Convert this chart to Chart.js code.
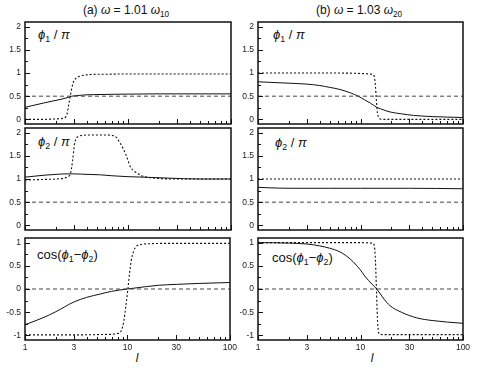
<!DOCTYPE html>
<html>
<head>
<meta charset="utf-8">
<title>Phase curves vs l</title>
<script src="https://cdn.jsdelivr.net/npm/chart.js@4.4.1/dist/chart.umd.min.js"></script>
<style>
  body { margin:0; background:#fff; width:480px; height:375px; position:relative; overflow:hidden;
         font-family:"Liberation Sans", Arial, sans-serif; color:#111; }
  canvas { position:absolute; }
  .txt { position:absolute; white-space:nowrap; line-height:1; }
  .title { font-size:12px; transform:translateX(-50%); }
  .lab { font-size:13px; }
  .xl { font-size:12px; font-style:italic; transform:translateX(-50%); }
  sub { font-size:0.68em; vertical-align:-0.35em; line-height:0; font-style:normal; }
</style>
</head>
<body>

<div class="txt title" style="left:126px; top:4px">(a) <i>ω</i> = 1.01 <i>ω</i><sub>10</sub></div>
<div class="txt title" style="left:359px; top:4px">(b) <i>ω</i> = 1.03 <i>ω</i><sub>20</sub></div>

<div class="txt lab" style="left:38px; top:28px"><i>ϕ</i><sub>1</sub> / <i>π</i></div>
<div class="txt lab" style="left:273px; top:28px"><i>ϕ</i><sub>1</sub> / <i>π</i></div>
<div class="txt lab" style="left:38px; top:135px"><i>ϕ</i><sub>2</sub> / <i>π</i></div>
<div class="txt lab" style="left:275px; top:136px"><i>ϕ</i><sub>2</sub> / <i>π</i></div>
<div class="txt lab" style="left:37px; top:248px">cos(<i>ϕ</i><sub>1</sub>−<i>ϕ</i><sub>2</sub>)</div>
<div class="txt lab" style="left:272px; top:251px">cos(<i>ϕ</i><sub>1</sub>−<i>ϕ</i><sub>2</sub>)</div>

<div class="txt xl" style="left:137px; top:352px">l</div>
<div class="txt xl" style="left:372px; top:352px">l</div>

<script>
// ---- data: (a) omega = 1.01 omega_10 ----
const aPhi1SolidX = [1, 1.5, 2, 2.5, 2.85, 3.5, 4, 5, 7, 10, 20, 30, 50, 100];
const aPhi1SolidY = [0.26, 0.35, 0.41, 0.46, 0.5, 0.52, 0.53, 0.535, 0.54, 0.545, 0.55, 0.55, 0.55, 0.55];
const aPhi1DotX = [1, 1.5, 2, 2.3, 2.45, 2.55, 2.65, 2.75, 2.85, 2.95, 3.1, 3.4, 4, 4.6, 7, 10, 30, 100];
const aPhi1DotY = [0.0, 0.0, 0.01, 0.02, 0.04, 0.1, 0.3, 0.5, 0.68, 0.8, 0.88, 0.93, 0.96, 0.97, 0.975, 0.98, 0.98, 0.98];

const aPhi2SolidX = [1, 1.5, 2, 2.5, 3, 4, 5.4, 7, 10, 14, 24, 50, 100];
const aPhi2SolidY = [1.04, 1.08, 1.1, 1.11, 1.11, 1.1, 1.09, 1.07, 1.05, 1.04, 1.02, 1.0, 1.0];
const aPhi2DotX = [1, 1.5, 2, 2.4, 2.6, 2.75, 2.9, 3.0, 3.1, 3.3, 3.6, 4, 5, 6, 7, 7.7, 8.4, 9.0, 9.4, 10, 10.5, 11.3, 12.2, 13.5, 15.2, 20, 30, 100];
const aPhi2DotY = [0.98, 0.99, 1.0, 1.02, 1.05, 1.1, 1.4, 1.7, 1.85, 1.92, 1.94, 1.95, 1.95, 1.95, 1.94, 1.9, 1.77, 1.65, 1.56, 1.4, 1.27, 1.18, 1.13, 1.07, 1.04, 1.01, 1.0, 1.0];

const aCosSolidX = [1, 1.5, 2, 3, 4, 5.4, 7, 10, 15, 20, 30, 50, 100];
const aCosSolidY = [-0.77, -0.62, -0.49, -0.28, -0.18, -0.11, -0.05, 0.0, 0.05, 0.08, 0.1, 0.12, 0.14];
const aCosDotX = [1, 3, 6, 8, 8.7, 9.2, 9.6, 10.1, 10.5, 10.9, 11.5, 12.2, 13.5, 16, 30, 100];
const aCosDotY = [-0.99, -0.99, -0.98, -0.96, -0.9, -0.7, -0.4, 0.0, 0.35, 0.62, 0.82, 0.92, 0.96, 0.975, 0.985, 0.985];

// ---- data: (b) omega = 1.03 omega_20 ----
const bPhi1SolidX = [1, 2, 3, 4, 5, 6.3, 8, 9.5, 11, 12.5, 14.4, 17, 19.4, 25, 33, 50, 100];
const bPhi1SolidY = [0.81, 0.78, 0.76, 0.73, 0.69, 0.645, 0.57, 0.5, 0.42, 0.35, 0.26, 0.2, 0.16, 0.12, 0.085, 0.06, 0.04];
const bPhi1DotX = [1, 5, 10, 12, 13, 13.6, 14.0, 14.3, 14.6, 15.0, 15.6, 17, 25, 100];
const bPhi1DotY = [1.0, 1.0, 0.99, 0.98, 0.97, 0.93, 0.7, 0.4, 0.15, 0.05, 0.01, 0.0, 0.0, 0.0];

const bPhi2SolidX = [1, 1.3, 2, 5, 10, 30, 100];
const bPhi2SolidY = [0.82, 0.81, 0.8, 0.8, 0.8, 0.8, 0.79];
const bPhi2DotX = [1, 100];
const bPhi2DotY = [1.0, 1.0];

const bCosSolidX = [1, 2, 3, 4, 5, 6.3, 8, 9.9, 11, 13, 14.4, 17, 19.4, 25, 35, 50, 100];
const bCosSolidY = [1.0, 0.99, 0.97, 0.93, 0.88, 0.8, 0.64, 0.42, 0.28, 0.1, 0.0, -0.22, -0.36, -0.5, -0.62, -0.68, -0.74];
const bCosDotX = [1, 10, 13, 13.6, 14.0, 14.3, 14.6, 15.0, 15.5, 17, 100];
const bCosDotY = [1.0, 1.0, 0.99, 0.95, 0.6, 0.0, -0.6, -0.93, -0.98, -0.985, -0.985];

// reference (dashed) lines
const refX = [1, 100];
const phiRefY = [0.5, 0.5];
const cosRefY = [0, 0];

// axis ticks
const xTickVals = [1,2,3,4,5,6,7,8,9,10,20,30,40,50,60,70,80,90,100];
const xLabelVals = [1, 3, 10, 30, 100];
const phiTickVals = [0, 0.25, 0.5, 0.75, 1, 1.25, 1.5, 1.75, 2];
const cosTickVals = [-1, -0.75, -0.5, -0.25, 0, 0.25, 0.5, 0.75, 1];

Chart.defaults.font.family = '"Liberation Sans", Arial, sans-serif';
Chart.defaults.color = '#222';

const pts = (xs, ys) => xs.map((x, i) => ({x: x, y: ys[i]}));
const isHalf = v => Math.abs(v * 2 - Math.round(v * 2)) < 1e-6;

// frame + inward tick marks (positions come from the chart's own scales)
const frameTicks = {
  id: 'frameTicks',
  afterDraw(chart) {
    const {ctx, chartArea: a, scales} = chart;
    ctx.save();
    ctx.setLineDash([]);
    ctx.strokeStyle = '#111';
    ctx.lineWidth = 1;
    ctx.beginPath();
    scales.x.ticks.forEach(t => {
      const px = Math.round(scales.x.getPixelForValue(t.value)) + 0.5;
      const len = xLabelVals.includes(t.value) ? 5 : 3;
      ctx.moveTo(px, a.bottom); ctx.lineTo(px, a.bottom - len);
    });
    scales.y.ticks.forEach(t => {
      const py = Math.round(scales.y.getPixelForValue(t.value)) + 0.5;
      const len = isHalf(t.value) ? 5 : 3;
      ctx.moveTo(a.left, py); ctx.lineTo(a.left + len, py);
    });
    ctx.stroke();
    ctx.lineWidth = 1.5;
    ctx.strokeRect(Math.round(a.left), Math.round(a.top), Math.round(a.right - a.left), Math.round(a.bottom - a.top));
    ctx.restore();
  }
};

const cols = [
  {left: 0, width: 240, axisW: 25, padRight: 9},
  {left: 240, width: 240, axisW: 18, padRight: 17}
];
const rows = [
  {top: 22, bottom: 124},
  {top: 128, bottom: 230},
  {top: 238, bottom: 340}
];

function makePanel(col, row, isCos, solid, dotted) {
  const c = cols[col], r = rows[row];
  const bottomRow = row === 2;
  const cv = document.createElement('canvas');
  cv.width = c.width;
  cv.height = (r.bottom - r.top) + 10 + (bottomRow ? 22 : 10);
  cv.style.left = c.left + 'px';
  cv.style.top = (r.top - 10) + 'px';
  document.body.appendChild(cv);

  const lineBase = {pointRadius: 0, fill: false, cubicInterpolationMode: 'monotone'};
  new Chart(cv.getContext('2d'), {
    type: 'line',
    data: {
      datasets: [
        Object.assign({data: pts(refX, isCos ? cosRefY : phiRefY), borderColor: '#444', borderWidth: 1, borderDash: [4, 3]}, lineBase),
        Object.assign({data: dotted, borderColor: '#111', borderWidth: 1.1, borderDash: [2, 2]}, lineBase),
        Object.assign({data: solid, borderColor: '#111', borderWidth: 1}, lineBase)
      ]
    },
    options: {
      responsive: false,
      animation: false,
      devicePixelRatio: 1,
      layout: {padding: {top: 10, bottom: bottomRow ? 0 : 10, left: 0, right: c.padRight}},
      plugins: {legend: {display: false}, tooltip: {enabled: false}},
      scales: {
        x: {
          type: 'logarithmic', min: 1, max: 100,
          grid: {display: false, drawTicks: false}, border: {display: false},
          afterBuildTicks: s => { s.ticks = xTickVals.map(v => ({value: v})); },
          afterFit: s => { s.height = bottomRow ? 22 : 0; },
          ticks: {
            display: bottomRow, autoSkip: false, maxRotation: 0, padding: 3,
            font: {size: 8.5}, color: '#222',
            callback: v => xLabelVals.includes(v) ? String(v) : ''
          }
        },
        y: {
          min: isCos ? -1.1 : -0.1, max: isCos ? 1.1 : 2.1,
          grid: {display: false, drawTicks: false}, border: {display: false},
          afterBuildTicks: s => { s.ticks = (isCos ? cosTickVals : phiTickVals).map(v => ({value: v})); },
          afterFit: s => { s.width = c.axisW; },
          ticks: {
            autoSkip: false, padding: 4, font: {size: 8.5}, color: '#222',
            callback: v => isHalf(v) ? String(v) : ''
          }
        }
      }
    },
    plugins: [frameTicks]
  });
}

makePanel(0, 0, false, pts(aPhi1SolidX, aPhi1SolidY), pts(aPhi1DotX, aPhi1DotY));
makePanel(0, 1, false, pts(aPhi2SolidX, aPhi2SolidY), pts(aPhi2DotX, aPhi2DotY));
makePanel(0, 2, true,  pts(aCosSolidX, aCosSolidY),   pts(aCosDotX, aCosDotY));
makePanel(1, 0, false, pts(bPhi1SolidX, bPhi1SolidY), pts(bPhi1DotX, bPhi1DotY));
makePanel(1, 1, false, pts(bPhi2SolidX, bPhi2SolidY), pts(bPhi2DotX, bPhi2DotY));
makePanel(1, 2, true,  pts(bCosSolidX, bCosSolidY),   pts(bCosDotX, bCosDotY));
</script>
</body>
</html>
